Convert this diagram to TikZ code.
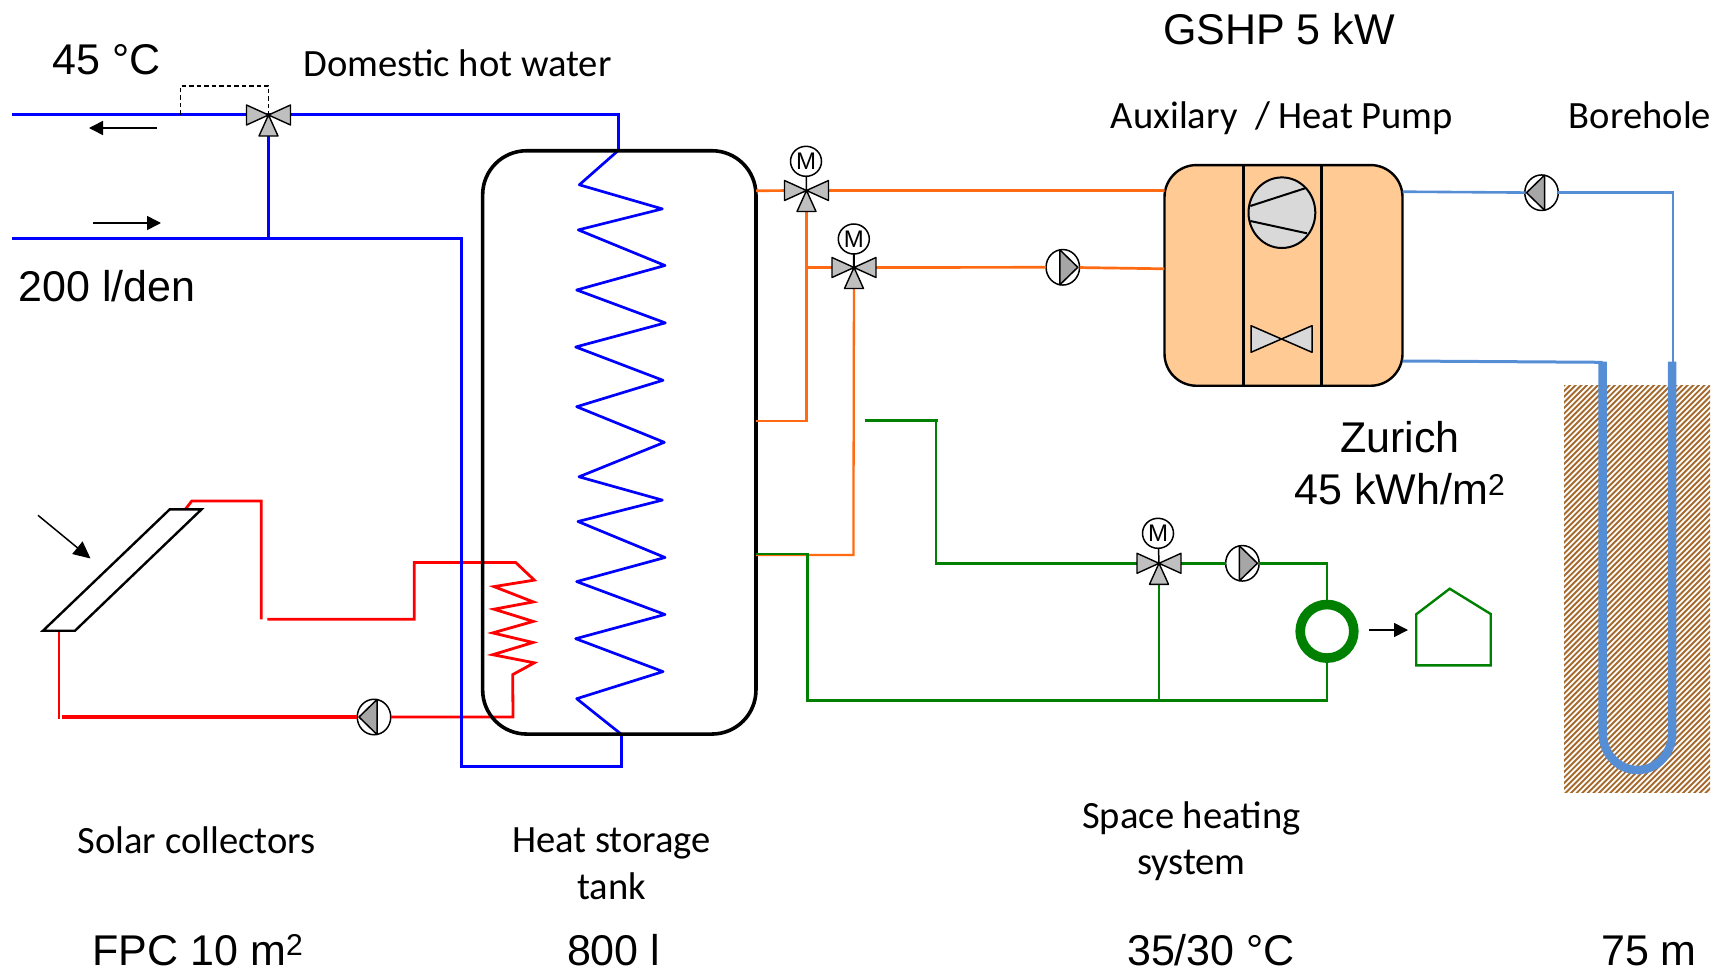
\documentclass[tikz,border=0pt]{standalone}
\usepackage{fontspec}
\setmainfont{Liberation Sans}
\newfontfamily\calib{Carlito}
\usetikzlibrary{arrows.meta,shapes.geometric}
\definecolor{pipeblue}{HTML}{0000FF}
\definecolor{pipered}{HTML}{FF0000}
\definecolor{pipeorange}{HTML}{FF6A13}
\definecolor{pipegreen}{HTML}{008000}
\definecolor{pipesky}{HTML}{558ED5}
\definecolor{hpfill}{HTML}{FFCA94}
\definecolor{hatchbrown}{HTML}{A56A2E}
\tikzset{
  x=1pt,y=-1pt,
  bigtext/.style={inner sep=0pt,font=\fontsize{43}{50}\selectfont},
  labeltext/.style={inner sep=0pt,font=\calib\fontsize{38.6}{44}\selectfont},
  blueline/.style={draw=pipeblue,line width=3pt,line join=miter},
  redline/.style={draw=pipered,line width=2.8pt},
  orangeline/.style={draw=pipeorange,line width=2.7pt},
  greenline/.style={draw=pipegreen,line width=2.9pt},
  skyline/.style={draw=pipesky,line width=2.6pt},
  flowarrow/.style={draw=black,line width=1.6pt,-{Triangle[length=14pt,width=14pt]}},
  pumpnode/.style={ellipse,draw=black,fill=white,line width=1.5pt,minimum width=33.5pt,minimum height=35.5pt,inner sep=0pt,outer sep=0pt},
  motornode/.style={ellipse,draw=black,fill=white,line width=1.5pt,minimum width=31pt,minimum height=30pt,inner sep=0pt,outer sep=0pt,font=\fontsize{24}{24}\selectfont},
  valve/.pic={
    \draw[fill=gray!50!white,line width=1.4pt,line join=round]
      (0,0)--(-22,-10)--(-22,10)--cycle
      (0,0)--(22,-10)--(22,10)--cycle
      (0,0)--(-9.5,21)--(9.5,21)--cycle;
  },
  pumpright/.pic={
    \draw[fill=gray!70!white,line width=1.5pt,line join=round] (-3,-17.5)--(15,0)--(-3,17.5)--cycle;
  },
  pumpleft/.pic={
    \draw[fill=gray!70!white,line width=1.5pt,line join=round] (3,-17.5)--(-15,0)--(3,17.5)--cycle;
  },
}
\begin{document}
\begin{tikzpicture}
\useasboundingbox (0,0) rectangle (1712,971);

% ground
\begin{scope}
  \clip (1564,385) rectangle (1710,792);
  \foreach \c in {1150,1155.6,...,1712}{
    \draw[hatchbrown,line width=1.9pt] (\c,794) -- ++(430,-430);
  }
\end{scope}

% named points
\coordinate (v1) at (806.5,190.5);
\coordinate (v2) at (854,267.5);
\coordinate (v3) at (1159,563.3);
\coordinate (v0) at (268.5,115);
\coordinate (coilT) at (617.7,151);
\coordinate (coilB) at (621,734);

% heat pump
\node[draw=black,fill=hpfill,line width=2.4pt,rounded corners=32pt,minimum width=238pt,minimum height=220.7pt,inner sep=0pt,outer sep=0pt] (hp) at (1283.5,275.4) {};
\draw[line width=2.5pt] (1243.6,165) -- (1243.6,385.7) (1321.3,165) -- (1321.3,385.7);
\node[ellipse,draw=black,fill=gray!30!white,line width=2pt,minimum width=66.8pt,minimum height=70.6pt,inner sep=0pt,outer sep=0pt] (comp) at (1281.9,212.7) {};
\draw[line width=2pt] (1250.3,206) -- (1305,188.3) (1250.3,221) -- (1306.9,233.3);
\draw[fill=gray!30!white,line width=1.5pt,line join=round] (1251,325.7) -- (1312,352.3) -- (1312,325.7) -- (1251,352.3) -- cycle;

% pumps and motors
\node[pumpnode] (p1) at (374,717) {};
\node[pumpnode] (p2) at (1062.8,267.3) {};
\node[pumpnode] (p3) at (1242.4,563.3) {};
\node[pumpnode] (p4) at (1541.5,192.7) {};

% red circuit
\draw[redline,line width=3.2pt] (p1) -- (62.4,717);
\draw[pipered,line width=1.8pt] (59,719) -- (59,630.7);
\draw[redline] (185.3,509.3) -- (191.8,501) -- (261.2,501) -- (261.2,619.3);
\draw[redline] (267.3,619.3) -- (414.3,619.3) -- (414.3,562.5) -- (515.7,562.5) -- (534.3,580.1)
 -- (494,586.6) -- (533.3,601.9) -- (494,609.2) -- (533.3,621.4) -- (492.7,632.9) -- (533,642.5)
 -- (492.7,654.7) -- (534.3,662.8) -- (512.7,674.6) -- (513,717) -- (p1);

% blue circuit
\draw[blueline] (12,115) -- (v0) -- (618,115) -- (618,151);
\draw[blueline,line width=3.6pt] (v0) -- (268.5,238);
\draw[blueline] (12,238) -- (461,238) -- (461,766) -- (621,766) -- (coilB);
\draw[blueline,line join=round,line width=2.7pt] (coilT) -- (579.3,184.8) -- (662.3,208.9) -- (578.3,229.9) -- (665,265.5) -- (576.7,290)
 -- (665.3,322.9) -- (575.7,347) -- (663,380.3) -- (576.7,406.7) -- (664.3,442.3) -- (579,476.8)
 -- (662.3,500.1) -- (578,521.5) -- (665,557.5) -- (576.7,581.6) -- (665,614.5) -- (575.7,638.7)
 -- (663,671.6) -- (576.7,698.7) -- (coilB);
\draw[black,line width=1.4pt,dash pattern=on 4.5pt off 3pt] (180.5,115) -- (180.5,86) -- (268.5,86) -- (v0);

% tank
\node[draw=black,line width=3.6pt,rounded corners=44pt,minimum width=273.3pt,minimum height=583.3pt,inner sep=0pt,outer sep=0pt] (tank) at (619.3,442.4) {};

% orange circuit
\draw[orangeline] (756,190.7) -- (v1) -- (hp.west |- v1);
\draw[orangeline,line width=2.3pt] (756,420.7) -- (806.5,420.7) -- (v1);
\draw[orangeline] (806.5,267.5) -- (v2) -- (p2);
\draw[orangeline] (p2) -- (1164.4,268.8);
\draw[orangeline,line width=2.3pt] (v2) -- (853.4,555) -- (756,555);

% green circuit
\draw[greenline] (756,554) -- (807.3,554) -- (807.3,700.7) -- (1327,700.7) -- (1327,650);
\draw[greenline] (936,420.7) -- (936,563.3) -- (v3) -- (p3);
\draw[greenline,line width=3.4pt] (864.5,420.7) -- (937.7,420.7);
\draw[greenline] (p3) -- (1327,563.3) -- (1327,610);
\draw[greenline,line width=2.4pt] (v3) -- (1159,700.7);
\node[circle,draw=pipegreen,line width=9.6pt,minimum size=53.6pt,inner sep=0pt,outer sep=0pt,fill=white] (hx) at (1327,631.3) {};
\draw[pipegreen,line width=2.4pt,line join=miter] (1416.2,614.3) -- (1449.7,588.7) -- (1490.7,614) -- (1490.7,665.3) -- (1416.2,665.3) -- cycle;
\coordinate (house) at (1408,630);
\draw[flowarrow] (1369,630) -- (house);

% borehole circuit
\draw[skyline] (1402.5,191.7) -- (p4);
\draw[skyline] (p4) -- (1673,192.7) -- (1673,362);
\draw[skyline,line width=3pt] (1402.5,361) -- (1602.7,362.3);
\draw[pipesky,line width=8.5pt] (1602.7,361.5) -- (1602.7,733) .. controls (1602.7,753.4) and (1618,770) .. (1637.5,770) .. controls (1657,770) and (1672.2,753.4) .. (1672.2,733) -- (1672.2,361.5);

% valves
\pic at (v0) {valve};
\pic at (v1) {valve};
\pic at (v2) {valve};
\pic at (v3) {valve};
\node[motornode] (m1) at (806,161.3) {M};
\node[motornode] (m2) at (853.8,239) {M};
\node[motornode] (m3) at (1158,533.3) {M};
\draw[line width=1.5pt] (m1) -- (v1);
\draw[line width=2pt] (m2) -- (v2);
\draw[line width=1.5pt] (m3) -- (v3);

\pic at (p1) {pumpleft};
\pic at (p2) {pumpright};
\pic at (p3) {pumpright};
\pic at (p4) {pumpleft};

% collector
\draw[line width=2.4pt,fill=white,line join=miter] (43,630.7) -- (75,630.7) -- (201.6,509.3) -- (169.8,509.3) -- cycle;
\coordinate (sunA) at (38,515.3);
\coordinate (sunB) at (90.5,558.5);
\draw[draw=black,line width=1.5pt,-{Triangle[length=17pt,width=16pt]}] (sunA) -- (sunB);

% flow arrows
\coordinate (dhwA) at (157,128);
\coordinate (dhwB) at (89,128);
\coordinate (coldA) at (93,223);
\coordinate (coldB) at (161,223);
\draw[flowarrow] (dhwA) -- (dhwB);
\draw[flowarrow] (coldA) -- (coldB);

% labels
\node[bigtext] (t1) at (1279,29.5) {GSHP 5 kW};
\node[bigtext] (t2) at (107,60) {45 °C};
\node[bigtext] (t3) at (107,286.5) {200 l/den};
\node[bigtext] (t4) at (1400,437) {Zurich};
\node[bigtext] (t5) at (1400,489) {45 kWh/m\textsuperscript{2}};
\node[bigtext,anchor=base] (t6) at (198,965) {FPC 10 m\textsuperscript{2}};
\node[bigtext,anchor=base] (t7) at (613.7,965) {800 l};
\node[bigtext,anchor=base] (t8) at (1211,965) {35/30 °C};
\node[bigtext,anchor=base] (t9) at (1649,965) {75 m};
\node[labeltext] (l1) at (457.5,63.5) {Domestic hot water};
\node[labeltext] (l2) at (1282,118) {Auxilary \ / Heat Pump};
\node[labeltext] (l3) at (1640,115.7) {Borehole};
\node[labeltext] (l4) at (196.6,840) {Solar collectors};
\node[labeltext] (l5) at (611.5,843) {Heat storage};
\node[labeltext] (l6) at (611.5,886) {tank};
\node[labeltext] (l7) at (1191.4,818) {Space heating};
\node[labeltext] (l8) at (1191.4,865) {system};
\end{tikzpicture}
\end{document}
